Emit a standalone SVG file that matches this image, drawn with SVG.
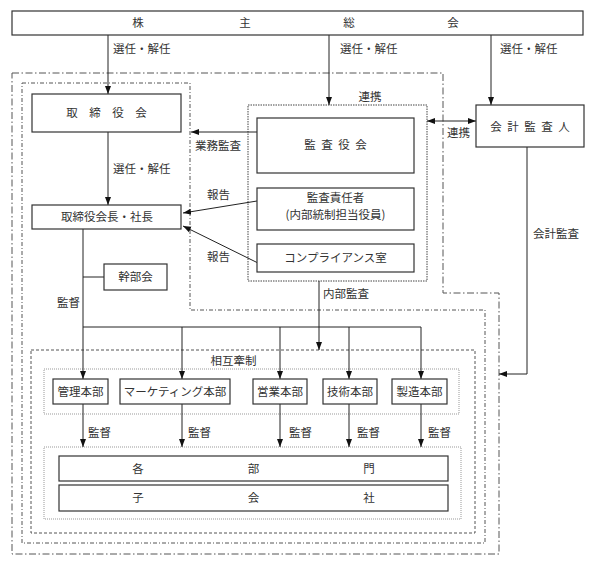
<svg xmlns="http://www.w3.org/2000/svg" width="600" height="579" viewBox="0 0 600 579">
<defs>
<marker id="ah" markerUnits="userSpaceOnUse" markerWidth="8" markerHeight="8" viewBox="0 0 8 8" refX="8" refY="4" orient="auto-start-reverse">
<path d="M0,1 L8,4 L0,7 Z" fill="#111"/>
</marker>
<style>
text{font-family:"Noto Sans CJK JP","Noto Sans",sans-serif;font-size:11.5px;fill:#333}
.box{fill:#fff;stroke:#333;stroke-width:1.2}
.c{text-anchor:middle}
.ln{fill:none;stroke:#222;stroke-width:1}
.arr{fill:none;stroke:#222;stroke-width:1;marker-end:url(#ah)}
.outer{fill:none;stroke:#555;stroke-width:1;stroke-dasharray:7 2.5 1.5 2.5}
.lvl2{fill:none;stroke:#555;stroke-width:1;stroke-dasharray:4 2 1 2}
.dash{fill:none;stroke:#555;stroke-width:1;stroke-dasharray:3 2}
.dot{fill:none;stroke:#444;stroke-width:1;stroke-dasharray:1.5 1}
.gdot{fill:none;stroke:#999;stroke-width:1;stroke-dasharray:1 1}
</style>
</defs>
<rect width="600" height="579" fill="#fff"/>

<g id="boundaries">
<path class="outer" d="M12,73 H443 V293 H499 V554 H12 Z"/>
<path class="lvl2" d="M22,83 H190 V310 H485 V543 H22 Z"/>
<rect class="dash" x="31" y="350" width="444" height="183"/>
<rect class="dot" x="248" y="105" width="179" height="176"/>
<rect class="gdot" x="44" y="369" width="415" height="45"/>
<rect class="gdot" x="44" y="447" width="417" height="72"/>
<text class="c" x="233.5" y="365">相互牽制</text>
</g>

<g id="connectors">
<line class="arr" x1="108" y1="35" x2="108" y2="94"/>
<line class="arr" x1="329" y1="35" x2="329" y2="105"/>
<line class="arr" x1="491" y1="35" x2="491" y2="105"/>
<line class="arr" x1="108" y1="132" x2="108" y2="205"/>
<line class="arr" x1="257" y1="132" x2="191" y2="132"/>
<line class="arr" x1="257" y1="201" x2="183" y2="213"/>
<line class="arr" x1="258" y1="263" x2="183" y2="226"/>
<line class="arr" x1="427" y1="121" x2="476" y2="121" style="marker-start:url(#ah)"/>
<line class="ln" x1="83" y1="229" x2="83" y2="327"/>
<line class="ln" x1="83" y1="277" x2="104" y2="277"/>
<line class="ln" x1="83" y1="327" x2="421" y2="327"/>
<line class="arr" x1="83" y1="327" x2="83" y2="379"/>
<line class="arr" x1="182" y1="327" x2="182" y2="379"/>
<line class="arr" x1="280" y1="327" x2="280" y2="379"/>
<line class="arr" x1="349" y1="327" x2="349" y2="379"/>
<line class="arr" x1="421" y1="327" x2="421" y2="379"/>
<line class="arr" x1="319" y1="281" x2="319" y2="350"/>
<path class="arr" d="M527,147 V374 H499"/>
<line class="arr" x1="83" y1="404" x2="83" y2="447"/>
<line class="arr" x1="182" y1="404" x2="182" y2="447"/>
<line class="arr" x1="280" y1="404" x2="280" y2="447"/>
<line class="arr" x1="349" y1="404" x2="349" y2="447"/>
<line class="arr" x1="421" y1="404" x2="421" y2="447"/>
<text x="113" y="53">選任・解任</text>
<text x="340" y="53">選任・解任</text>
<text x="500" y="53">選任・解任</text>
<text class="c" x="370" y="101">連携</text>
<text x="195" y="150">業務監査</text>
<text x="447" y="137">連携</text>
<text x="113" y="173">選任・解任</text>
<text x="207" y="199">報告</text>
<text x="207" y="261">報告</text>
<text x="533" y="238">会計監査</text>
<text x="57" y="307">監督</text>
<text x="323" y="298">内部監査</text>
<text x="88" y="437">監督</text>
<text x="188" y="437">監督</text>
<text x="289" y="437">監督</text>
<text x="357" y="437">監督</text>
<text x="428" y="437">監督</text>
</g>

<g id="shareholders">
<rect class="box" x="12" y="11" width="571" height="24"/>
<text class="c" x="138 245 349 453" y="27">株主総会</text>
</g>
<g id="board">
<rect class="box" x="32" y="94" width="149" height="38"/>
<text class="c" x="72 95 118 141" y="117">取締役会</text>
</g>
<g id="president">
<rect class="box" x="32" y="205" width="149" height="24"/>
<text class="c" x="107" y="221">取締役会長・社長</text>
</g>
<g id="executives">
<rect class="box" x="104" y="264" width="63" height="26"/>
<text class="c" x="135.5" y="281">幹部会</text>
</g>
<g id="audit-board">
<rect class="box" x="257" y="118" width="157" height="55"/>
<text class="c" x="310 327 344 361" y="149">監査役会</text>
</g>
<g id="audit-officer">
<rect class="box" x="257" y="188" width="157" height="42"/>
<text class="c" x="335.5" y="202">監査責任者</text>
<text class="c" x="335.5" y="219">(内部統制担当役員)</text>
</g>
<g id="compliance">
<rect class="box" x="257" y="244" width="157" height="28"/>
<text class="c" x="335.5" y="262">コンプライアンス室</text>
</g>
<g id="accounting-auditor">
<rect class="box" x="476" y="105" width="108" height="42"/>
<text class="c" x="496 513 530 547 564" y="131">会計監査人</text>
</g>
<g id="admin">
<rect class="box" x="53" y="379" width="55" height="25"/>
<text class="c" x="80.5" y="395.5">管理本部</text>
</g>
<g id="marketing">
<rect class="box" x="120" y="379" width="110" height="25"/>
<text class="c" x="175" y="395.5">マーケティング本部</text>
</g>
<g id="sales">
<rect class="box" x="253" y="379" width="54" height="25"/>
<text class="c" x="280" y="395.5">営業本部</text>
</g>
<g id="tech">
<rect class="box" x="323" y="379" width="54" height="25"/>
<text class="c" x="350" y="395.5">技術本部</text>
</g>
<g id="manufacturing">
<rect class="box" x="392" y="379" width="55" height="25"/>
<text class="c" x="419.5" y="395.5">製造本部</text>
</g>
<g id="departments">
<rect class="box" x="59" y="456" width="389" height="25"/>
<text class="c" x="138 253.5 369" y="472.5">各部門</text>
</g>
<g id="subsidiaries">
<rect class="box" x="59" y="485" width="389" height="26"/>
<text class="c" x="138 253.5 369" y="502">子会社</text>
</g>
</svg>
